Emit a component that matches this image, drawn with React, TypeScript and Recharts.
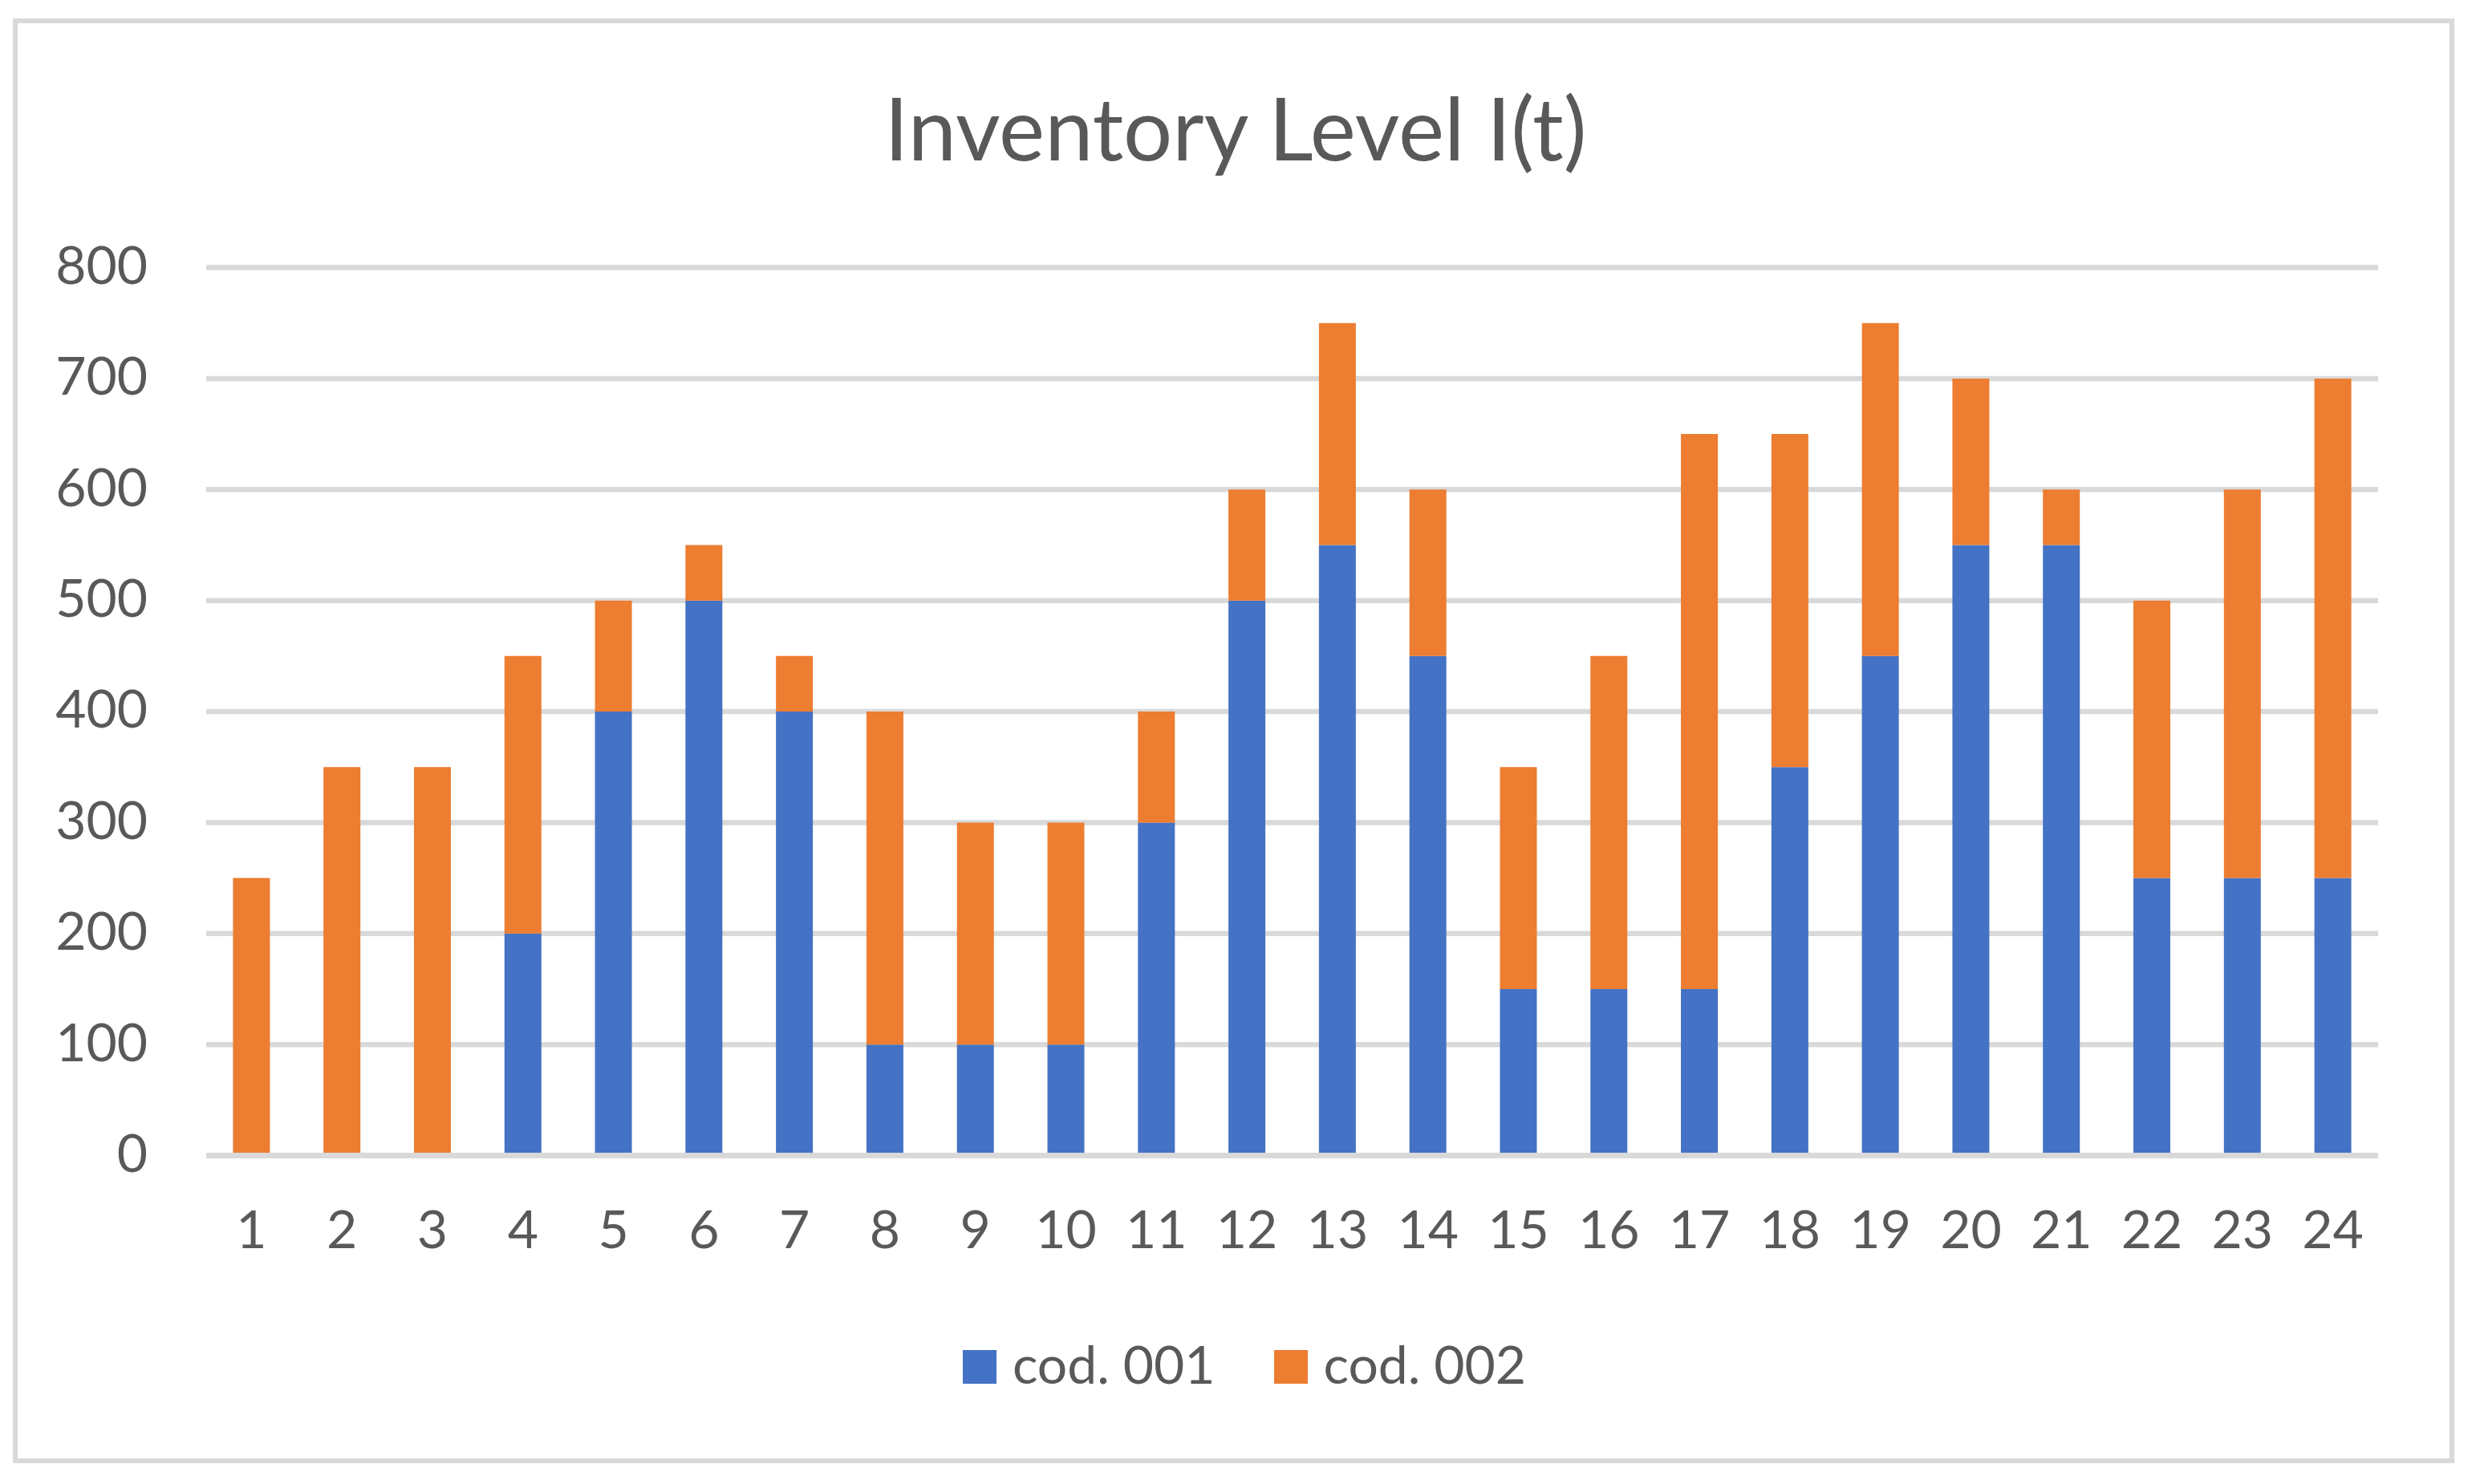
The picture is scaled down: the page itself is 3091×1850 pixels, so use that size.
import React from 'react';
import { BarChart, Bar, XAxis, YAxis, CartesianGrid, Legend, ReferenceLine } from 'recharts';

const periods = ['1','2','3','4','5','6','7','8','9','10','11','12','13','14','15','16','17','18','19','20','21','22','23','24'];
const cod001 = [0,0,0,200,400,500,400,100,100,100,300,500,550,450,150,150,150,350,450,550,550,250,250,250];
const cod002 = [250,350,350,250,100,50,50,300,200,200,100,100,200,150,200,300,500,300,300,150,50,250,350,450];
const yTicks = [0,100,200,300,400,500,600,700,800];

const seriesNames = ['cod. 001', 'cod. 002'];
const colors = ['#4472C4', '#ED7D31'];

const data = periods.map((p, i) => ({ period: p, a: cod001[i], b: cod002[i] }));

const FONT = 'Lato, "Open Sans", sans-serif';
const TEXT = '#595959';
const GRID = '#D9D9D9';

const W = 3091;
const H = 1850;

const LegendContent = (props: any) => {
  const payload = props.payload || [];
  return (
    <div style={{ display: 'flex', justifyContent: 'center', alignItems: 'flex-start', paddingLeft: 11, height: 0, overflow: 'visible' }}>
      {payload.map((e: any, i: number) => (
        <div key={i} style={{ display: 'flex', alignItems: 'flex-start', marginRight: i === 0 ? 73 : 0 }}>
          <div style={{ width: 42, height: 42, background: e.color, marginRight: 20 }} />
          <span style={{ fontFamily: FONT, fontSize: 66, color: TEXT, lineHeight: '42px', position: 'relative', top: -4, whiteSpace: 'nowrap' }}>{e.value}</span>
        </div>
      ))}
    </div>
  );
};

export default function App() {
  return (
    <div style={{ position: 'relative', width: W, height: H, background: '#fff' }}>
      <style>{'body{margin:0;background:#fff}'}</style>
      <div style={{ position: 'absolute', left: 16, top: 23, width: 3043, height: 1801, border: `6px solid ${GRID}`, boxSizing: 'border-box' }} />
      <svg style={{ position: 'absolute', left: 0, top: 0 }} width={W} height={H}>
        <text x={1540} y={200} textAnchor="middle" fontFamily={FONT} fontSize={108} fill={TEXT}>Inventory Level I(t)</text>
      </svg>
      <div style={{ position: 'absolute', left: 0, top: 0 }}>
        <BarChart
          width={W}
          height={H}
          data={data}
          margin={{ top: 333.5, right: 127, bottom: 309.5, left: 0 }}
          barCategoryGap="29.6%"
        >
          <CartesianGrid vertical={false} stroke={GRID} strokeWidth={6.5} />
          <XAxis
            dataKey="period"
            height={100}
            axisLine={false}
            tickLine={false}
            tickSize={0}
            tickMargin={69}
            interval={0}
            tick={{ fontFamily: FONT, fontSize: 66, fill: TEXT }}
          />
          <YAxis
            width={257}
            domain={[0, 800]}
            ticks={yTicks}
            axisLine={false}
            tickLine={false}
            tickSize={0}
            tickMargin={73}
            tick={{ fontFamily: FONT, fontSize: 66, fill: TEXT, dy: -3 }}
          />
          <Bar dataKey="a" name={seriesNames[0]} stackId="s" fill={colors[0]} isAnimationActive={false} />
          <Bar dataKey="b" name={seriesNames[1]} stackId="s" fill={colors[1]} isAnimationActive={false} />
          <ReferenceLine y={0} stroke={GRID} strokeWidth={7} />
          <Legend
            content={<LegendContent />}
            wrapperStyle={{ top: 1683, bottom: 'auto', left: 0, width: W, height: 0 }}
          />
        </BarChart>
      </div>
    </div>
  );
}
